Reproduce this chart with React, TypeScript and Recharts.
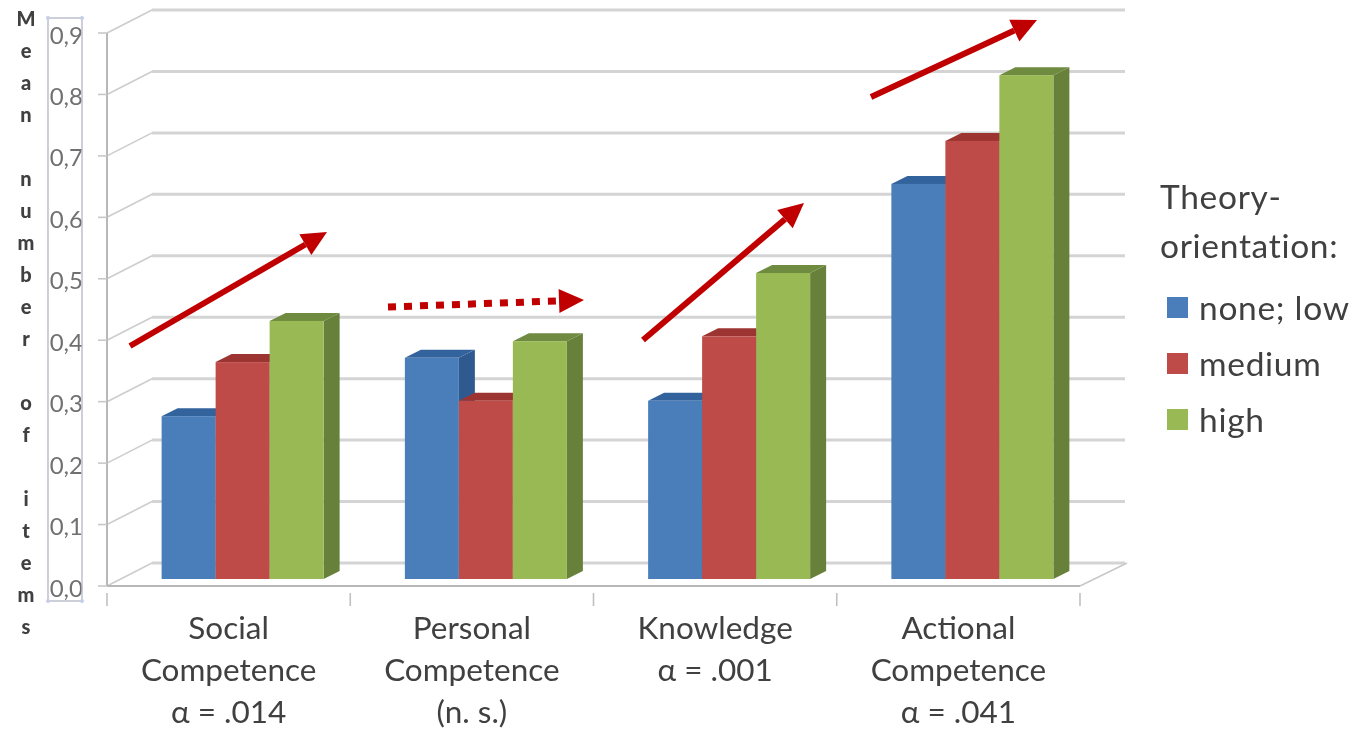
import React from "react";
import { BarChart, Bar, XAxis, YAxis, CartesianGrid, Legend } from "recharts";

const categories = ["Social Competence", "Personal Competence", "Knowledge", "Actional Competence"];
const categoryLines = [
  ["Social", "Competence", "α = .014"],
  ["Personal", "Competence", "(n. s.)"],
  ["Knowledge", "α = .001"],
  ["Actional", "Competence", "α = .041"],
];
const noneLow = [0.265, 0.36, 0.29, 0.643];
const medium = [0.353, 0.29, 0.395, 0.713];
const high = [0.42, 0.387, 0.498, 0.82];
const yTicks = [0, 0.1, 0.2, 0.3, 0.4, 0.5, 0.6, 0.7, 0.8, 0.9];
const yTitle = "Mean number of items";
const legendTitle = ["Theory-", "orientation:"];

const data = categories.map((name, i) => ({
  name,
  noneLow: noneLow[i],
  medium: medium[i],
  high: high[i],
}));

const WIDTH = 1356;
const HEIGHT = 729;
const FONT = "Lato, 'Open Sans', sans-serif";
const BAND = 243.25;

// 3D look: each bar sits partway into the floor
const BAR_DX = 14;
const BAR_DY = -7;
const DEPTH_X = 16;
const DEPTH_Y = -8;
// back wall offset
const WALL_X = 45;
const WALL_Y = -23;

const Bar3D = (props: any) => {
  const { x, y, width, height, fill, side, top } = props;
  const fx = x + BAR_DX;
  const fy = y + BAR_DY;
  const r = fx + width;
  const b = fy + height;
  return (
    <g>
      <polygon
        points={`${r},${fy} ${r + DEPTH_X},${fy + DEPTH_Y} ${r + DEPTH_X},${b + DEPTH_Y} ${r},${b}`}
        fill={side}
      />
      <polygon
        points={`${fx},${fy} ${fx + DEPTH_X},${fy + DEPTH_Y} ${r + DEPTH_X},${fy + DEPTH_Y} ${r},${fy}`}
        fill={top}
      />
      <rect x={fx} y={fy} width={width} height={height} fill={fill} />
    </g>
  );
};

const GridLine = (props: any) => {
  const { y1, x1, x2, index } = props;
  return (
    <g key={`grid-${index}`} fill="none">
      <line x1={x1} y1={y1} x2={x1 + WALL_X} y2={y1 + WALL_Y} stroke="#cdcdcd" strokeWidth={1.6} />
      <line x1={x1 + WALL_X} y1={y1 + WALL_Y} x2={x2 + WALL_X} y2={y1 + WALL_Y} stroke="#d4d4d4" strokeWidth={3} />
    </g>
  );
};

const CategoryTick = (props: any) => {
  const { x, y, index } = props;
  const lines = categoryLines[index] || [];
  const tick = (tx: number) => <line x1={tx} y1={y - 1} x2={tx} y2={y + 12} stroke="#c0c0c0" strokeWidth={1.6} />;
  return (
    <g>
      {tick(x - BAND / 2)}
      {index === categories.length - 1 && tick(x + BAND / 2)}
      {lines.map((line, i) => (
        <text key={line} x={x} y={y + 45 + i * 42} textAnchor="middle" fontFamily={FONT} fontSize={31.5} fill="#404040">
          {line}
        </text>
      ))}
    </g>
  );
};

const YTitle = () => (
  <g>
    {yTitle.split("").map((ch, i) => (
      <text key={i} x={26} y={26 + i * 32} textAnchor="middle" fontFamily={FONT} fontWeight={900} fontSize={20} fill="#404040">
        {ch}
      </text>
    ))}
  </g>
);

const LegendBox = ({ payload }: any) => (
  <div style={{ fontFamily: FONT, fontSize: 33.5, color: "#404040", lineHeight: "49px", letterSpacing: 0.7 }}>
    {legendTitle.map((t) => (
      <div key={t}>{t}</div>
    ))}
    <div style={{ marginTop: 9 }}>
      {(payload || []).map((p: any) => (
        <div key={p.value} style={{ display: "flex", alignItems: "center", height: 56, marginLeft: 7 }}>
          <span style={{ width: 21, height: 21, background: p.color, marginRight: 11 }} />
          {p.value}
        </div>
      ))}
    </div>
  </div>
);

// arrow drawn as a shaft plus a triangular head
const Arrow = ({ from, to, dotted }: { from: number[]; to: number[]; dotted?: boolean }) => {
  const dx = to[0] - from[0];
  const dy = to[1] - from[1];
  const len = Math.hypot(dx, dy);
  const ux = dx / len;
  const uy = dy / len;
  const headLen = 25;
  const headHalf = 12;
  const bx = to[0] - ux * headLen;
  const by = to[1] - uy * headLen;
  return (
    <g>
      <line
        x1={from[0]}
        y1={from[1]}
        x2={bx}
        y2={by}
        stroke="#c00000"
        strokeWidth={dotted ? 7 : 6}
        strokeDasharray={dotted ? "8 8" : undefined}
      />
      <polygon
        points={`${to[0]},${to[1]} ${bx - uy * headHalf},${by + ux * headHalf} ${bx + uy * headHalf},${by - ux * headHalf}`}
        fill="#c00000"
      />
    </g>
  );
};

export default function App() {
  return (
    <div style={{ position: "absolute", left: 0, top: 0, width: WIDTH, height: HEIGHT, background: "#fff", filter: "blur(0.7px)" }}>
      <BarChart
        width={WIDTH}
        height={HEIGHT}
        data={data}
        margin={{ top: 33, right: 276, bottom: 0, left: 57 }}
        barCategoryGap="16.7%"
        barGap={0}
      >
        <CartesianGrid vertical={false} horizontal={GridLine as any} />
        <XAxis
          dataKey="name"
          height={143}
          interval={0}
          axisLine={{ stroke: "#b8b8b8", strokeWidth: 2 }}
          tickLine={false}
          tick={CategoryTick as any}
        />
        <YAxis
          width={50}
          domain={[0, 0.9]}
          ticks={yTicks}
          interval={0}
          tickSize={9}
          tickMargin={15}
          axisLine={{ stroke: "#b8b8b8", strokeWidth: 2 }}
          tickLine={{ stroke: "#c8c8c8", strokeWidth: 1.6 }}
          tickFormatter={(v: number) => v.toFixed(1).replace(".", ",")}
          tick={{ fontFamily: FONT, fontSize: 24, fill: "#707070", dy: 2 }}
        />
        <Legend
          layout="vertical"
          align="center"
          verticalAlign="middle"
          itemSorter={null}
          wrapperStyle={{ position: "absolute", left: 1160, top: 172, width: 196, height: 290 }}
          content={LegendBox as any}
        />
        <Bar dataKey="noneLow" name="none; low" fill="#4a7ebb" isAnimationActive={false}
          shape={(p: any) => <Bar3D {...p} fill="#4a7ebb" side="#2f5a8f" top="#33639c" />} />
        <Bar dataKey="medium" name="medium" fill="#be4b48" isAnimationActive={false}
          shape={(p: any) => <Bar3D {...p} fill="#be4b48" side="#8c302e" top="#9c3532" />} />
        <Bar dataKey="high" name="high" fill="#98b954" isAnimationActive={false}
          shape={(p: any) => <Bar3D {...p} fill="#98b954" side="#67803a" top="#6f8b3f" />} />
      </BarChart>
      <svg width={WIDTH} height={HEIGHT} style={{ position: "absolute", left: 0, top: 0 }}>
        <YTitle />
        {/* floor edge on the right */}
        <line x1={1080} y1={586} x2={1127} y2={563} stroke="#c8c8c8" strokeWidth={1.6} />
        {/* selection frame around the tick labels */}
        <rect x={48} y={18} width={34} height={583} fill="none" stroke="#b8bcc8" strokeWidth={1.4} />
        {[[48, 18], [82, 18], [48, 601], [82, 601]].map(([cx, cy]) => (
          <circle key={`${cx}-${cy}`} cx={cx} cy={cy} r={2} fill="#c4cfe6" />
        ))}
        <Arrow from={[130, 346]} to={[327, 232]} />
        <Arrow from={[388, 307]} to={[584, 300]} dotted />
        <Arrow from={[643, 340]} to={[804, 203]} />
        <Arrow from={[871, 97]} to={[1037, 20]} />
      </svg>
    </div>
  );
}
